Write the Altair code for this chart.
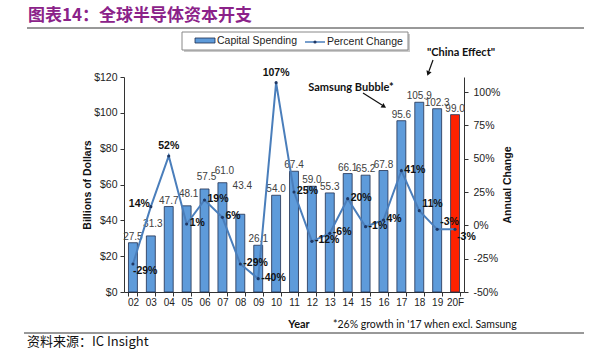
import altair as alt
import pandas as pd

years = ["02", "03", "04", "05", "06", "07", "08", "09", "10", "11",
         "12", "13", "14", "15", "16", "17", "18", "19", "20F"]
spending = [27.5, 31.3, 47.7, 48.1, 57.5, 61.0, 43.4, 26.1, 54.0, 67.4,
            59.0, 55.3, 66.1, 65.2, 67.8, 95.6, 105.9, 102.3, 99.0]
pct_change = [-29, 14, 52, 1, 19, 6, -29, -40, 107, 25,
              -12, -6, 20, -1, 4, 41, 11, -3, -3]
left_ticks = [0, 20, 40, 60, 80, 100, 120]
right_ticks = [-50, -25, 0, 25, 50, 75, 100]

df = pd.DataFrame({"year": years, "spend": spending, "pct": pct_change})
df["spend_label"] = df["spend"].map(lambda v: f"{v:.1f}")
df["pct_label"] = df["pct"].map(lambda v: f"{v}%")

W, H = 340, 215
BAR = "#5E9BDA"
RED = "#FF2200"
LINE = "#4A7EBB"
FONT = "Liberation Sans"

xscale = alt.Scale(paddingInner=0.5, paddingOuter=0.25)
x_enc = alt.X("year:N", sort=years, scale=xscale,
              axis=alt.Axis(title=None, labelAngle=0, tickBand="extent",
                            tickSize=4, labelPadding=1, labelFontSize=10,
                            labelOverlap=False,
                            domainColor="#333", tickColor="#333"))

lscale = alt.Scale(domain=[0, 120], nice=False)
rscale = alt.Scale(domain=[-50, 111.25], nice=False)
y_left = alt.Y("spend:Q", scale=lscale,
               axis=alt.Axis(values=left_ticks, labelExpr="'$' + datum.value",
                             title=None, orient="left", tickSize=4, labelPadding=3,
                             labelFontSize=10.5, labelOverlap=False, grid=False))
y_right = alt.Y("pct:Q", scale=rscale,
                axis=alt.Axis(values=right_ticks, labelExpr="datum.value + '%'",
                              title=None, orient="right", tickSize=4, labelPadding=5,
                              labelFontSize=10.5, labelOverlap=False, grid=False))

bars = alt.Chart(df).mark_bar(stroke="#1F2F4F", strokeWidth=0.8).encode(
    x=x_enc, y=y_left,
    color=alt.condition(alt.datum.year == "20F", alt.value(RED), alt.value(BAR)),
)

bar_text_base = alt.Chart(df).encode(x=x_enc, y=y_left, text="spend_label:N")
bstyle = dict(baseline="bottom", fontSize=10, font=FONT, color="#404040")
raised = ["03", "05", "06", "07"]
bar_text = bar_text_base.transform_filter(
    "indexof(" + str(raised + ["08"]) + ", datum.year) < 0"
).mark_text(dy=-1, **bstyle)
bar_text_up = bar_text_base.transform_filter(
    alt.FieldOneOfPredicate(field="year", oneOf=raised)
).mark_text(dy=-7, dx=2, **bstyle)
bar_text_08 = bar_text_base.transform_filter(
    alt.FieldOneOfPredicate(field="year", oneOf=["08"])
).mark_text(dy=-23, dx=2, **bstyle)

left_group = alt.layer(bars, bar_text, bar_text_up, bar_text_08)

line = alt.Chart(df).mark_line(color=LINE, strokeWidth=2).encode(x=x_enc, y=y_right)
pts = alt.Chart(df).mark_point(filled=True, size=10, color="#1F3864", opacity=1).encode(
    x=x_enc, y=y_right)

pct_base = alt.Chart(df).encode(x=x_enc, y=y_right, text="pct_label:N")
pstyle = dict(fontSize=10.5, font=FONT, fontWeight="bold", color="#111", baseline="middle")
special = ["02", "03", "04", "10", "18", "19", "20F"]
pct_default = pct_base.transform_filter(
    "indexof(" + str(special) + ", datum.year) < 0"
).mark_text(align="left", dx=3, dy=-1, **pstyle)
pct_02 = pct_base.transform_filter(
    alt.FieldOneOfPredicate(field="year", oneOf=["02"])
).mark_text(align="left", dx=0, dy=7, **pstyle)
pct_03 = pct_base.transform_filter(
    alt.FieldOneOfPredicate(field="year", oneOf=["03"])
).mark_text(align="right", dx=-1, dy=-3, **pstyle)
pct_top = pct_base.transform_filter(
    alt.FieldOneOfPredicate(field="year", oneOf=["04", "10"])
).mark_text(align="center", dy=-10, **pstyle)
pct_up = pct_base.transform_filter(
    alt.FieldOneOfPredicate(field="year", oneOf=["18", "19"])
).mark_text(align="left", dx=3, dy=-7, **pstyle)
pct_dn = pct_base.transform_filter(
    alt.FieldOneOfPredicate(field="year", oneOf=["20F"])
).mark_text(align="left", dx=2, dy=8, **pstyle)

right_group = alt.layer(line, pts, pct_default, pct_02, pct_03, pct_top, pct_up, pct_dn)

one = pd.DataFrame({"k": [0]})


def txt(s, x, y, **kw):
    return alt.Chart(one).mark_text(text=s, **kw).encode(x=alt.value(x), y=alt.value(y))


def rule(x1, y1, x2, y2, color="#222", w=1):
    return alt.Chart(one).mark_rule(color=color, strokeWidth=w).encode(
        x=alt.value(x1), y=alt.value(y1), x2=alt.value(x2), y2=alt.value(y2))


def rect(x1, y1, x2, y2, fill, stroke=None, sw=1):
    kw = dict(fill=fill, strokeWidth=sw)
    if stroke:
        kw["stroke"] = stroke
    return alt.Chart(one).mark_rect(**kw).encode(
        x=alt.value(x1), y=alt.value(y1), x2=alt.value(x2), y2=alt.value(y2))


def arrowhead(x, y, angle):
    return alt.Chart(one).mark_point(shape="triangle-right", filled=True, size=30,
                                     color="#111", opacity=1, angle=angle).encode(
        x=alt.value(x), y=alt.value(y))


annots = [
    # title and framing lines
    txt("图表14：全球半导体资本开支", -96, -61, font="Noto Sans CJK SC", fontSize=17,
        fontWeight="bold", color="#8B2289", align="left", baseline="middle"),
    rule(-97, -49, 460, -49, color="#333", w=1),
    rule(-100, 256, 460, 256, color="#333", w=1),
    txt("资料来源：IC Insight", -97, 265, font="Noto Sans CJK SC", fontSize=13,
        color="#111", align="left", baseline="middle"),
    # axis titles
    txt("Billions of Dollars", -36, 108, font=FONT, fontSize=10.5, fontWeight="bold",
        color="#111", angle=270, align="center", baseline="middle"),
    txt("Annual Change", 384, 108, font=FONT, fontSize=10.5, fontWeight="bold",
        color="#111", angle=270, align="center", baseline="middle"),
    txt("Year", 175, 248, font="Lato", fontSize=11, fontWeight="bold",
        color="#111", align="center", baseline="middle"),
    txt("*26% growth in '17 when excl. Samsung", 209, 248, font="Lato", fontSize=10.5,
        color="#111", align="left", baseline="middle"),
    # legend
    rect(60, -43, 286, -25, "#c8c8c8"),
    rect(58, -45, 284, -27, "white", stroke="#888", sw=1),
    rect(71, -39, 91, -34, BAR, stroke="#1F2F4F", sw=0.8),
    txt("Capital Spending", 93, -36, font=FONT, fontSize=10.5, color="#222",
        align="left", baseline="middle"),
    rule(181, -35, 201, -35, color=LINE, w=1.5),
    alt.Chart(one).mark_point(filled=True, size=10, color="#1F3864", opacity=1).encode(
        x=alt.value(191), y=alt.value(-35)),
    txt("Percent Change", 203, -35, font=FONT, fontSize=10.5, color="#222",
        align="left", baseline="middle"),
    # annotations
    txt("Samsung Bubble*", 227, 11, font="Lato", fontSize=11, fontWeight="bold",
        color="#111", align="center", baseline="middle"),
    rule(239, 16, 258, 28, color="#111", w=1.2),
    arrowhead(260, 29.5, 32),
    txt("\"China Effect\"", 337, -24, font="Lato", fontSize=11, fontWeight="bold",
        color="#111", align="center", baseline="middle"),
    rule(309, -17, 305, -6, color="#111", w=1.2),
    arrowhead(304.2, -3.5, 110),
]

chart = alt.layer(left_group, right_group, *annots).resolve_scale(y="independent").properties(
    width=W, height=H,
    autosize=alt.AutoSizeParams(type="none"),
    padding={"left": 124, "top": 77, "right": 130, "bottom": 59},
).configure_view(stroke=None).configure_axis(
    labelFont=FONT, labelColor="#222", domainColor="#333", tickColor="#333", grid=False,
    labelOverlap=False
)

chart.save("out.html", embed_options={"renderer": "svg", "actions": False})
